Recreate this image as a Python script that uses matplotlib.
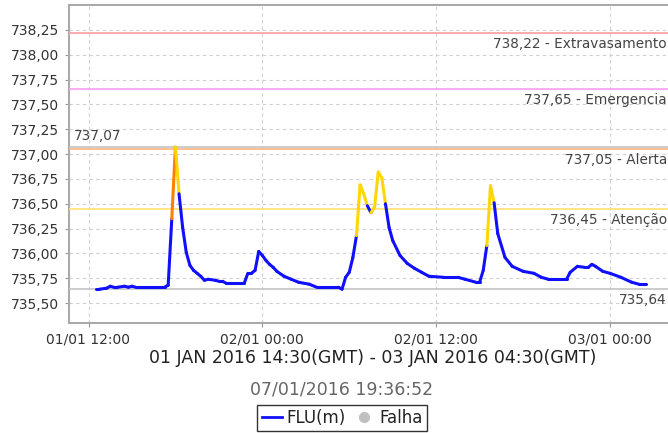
import datetime as dt
import matplotlib
matplotlib.use("Agg")
import matplotlib.pyplot as plt
import matplotlib.dates as mdates
from matplotlib.collections import LineCollection
from matplotlib.lines import Line2D
import numpy as np

# ---------------- data ----------------
# hours since 01/01/2016 00:00 (local)
hours = [12.5, 12.75, 13.25, 13.5, 13.75, 14.0, 14.5, 14.75, 15.0, 15.25, 16.0, 17.0,
         17.25, 17.5, 17.75, 18.0, 18.25, 18.5, 18.75, 19.0, 19.25, 19.5, 19.75,
         20.0, 20.25, 20.75, 21.0, 21.25, 21.5, 22.75, 23.0, 23.25, 23.5, 23.75,
         24.0, 24.25, 24.5, 24.75, 25.0, 25.5, 26.0, 26.5, 27.25, 27.75, 28.5,
         29.25, 29.5, 29.75, 30.0, 30.25, 30.5, 30.75, 31.0, 31.25, 31.5, 31.75,
         32.0, 32.25, 32.5, 32.75, 33.0, 33.5, 34.0, 34.5, 35.0, 35.5, 36.5,
         37.5, 38.0, 38.75, 39.0, 39.25, 39.5, 39.75, 40.0, 40.25, 40.75, 41.25,
         42.0, 42.75, 43.25, 43.75, 44.5, 45.0, 45.25, 45.75, 46.25, 46.5, 46.75,
         47.0, 47.5, 48.0, 48.75, 49.5, 50.0, 50.5]
level = [735.64, 735.64, 735.65, 735.67, 735.66, 735.66, 735.67, 735.66, 735.67, 735.66, 735.66, 735.66,
         735.66, 735.68, 736.35, 737.07, 736.60, 736.26, 736.01, 735.88, 735.83, 735.80, 735.77,
         735.73, 735.74, 735.73, 735.72, 735.72, 735.70, 735.70, 735.80, 735.80, 735.83, 736.02,
         735.98, 735.93, 735.89, 735.86, 735.82, 735.77, 735.74, 735.71, 735.69, 735.66, 735.66,
         735.66, 735.64, 735.76, 735.81, 735.96, 736.18, 736.69, 736.60, 736.48, 736.41, 736.47,
         736.82, 736.76, 736.50, 736.26, 736.13, 735.98, 735.90, 735.85, 735.81, 735.77, 735.76,
         735.76, 735.74, 735.71, 735.71, 735.83, 736.08, 736.68, 736.51, 736.20, 735.96, 735.87,
         735.82, 735.80, 735.76, 735.74, 735.74, 735.74, 735.81, 735.87, 735.86, 735.86, 735.89,
         735.87, 735.82, 735.80, 735.76, 735.71, 735.69, 735.69]

threshold_values = [738.22, 737.65, 737.05, 736.45]
threshold_names = ["Extravasamento", "Emergencia", "Alerta", "Atenção"]
threshold_line_colors = ["#ff9c9c", "#ff9cf0", "#ffb482", "#ffe070"]

series_name = "FLU(m)"
failure_name = "Falha"
xtick_hours = [12, 24, 36, 48]
xtick_labels = ["01/01 12:00", "02/01 00:00", "02/01 12:00", "03/01 00:00"]
ytick_values = [735.50, 735.75, 736.00, 736.25, 736.50, 736.75, 737.00,
                737.25, 737.50, 737.75, 738.00, 738.25]
period_text = "01 JAN 2016 14:30(GMT) - 03 JAN 2016 04:30(GMT)"
generated_text = "07/01/2016 19:36:52"

# ---------------- figure ----------------
W, H = 668, 433
fig = plt.figure(figsize=(W / 100, H / 100), dpi=100)
ax_left, ax_right, ax_top, ax_bottom = 69, 676, 5, 323
ax = fig.add_axes([ax_left / W, 1 - ax_bottom / H, (ax_right - ax_left) / W,
                   (ax_bottom - ax_top) / H])

base = dt.datetime(2016, 1, 1)
def to_dt(h):
    return base + dt.timedelta(hours=h)

t = mdates.date2num([to_dt(h) for h in hours])
v = np.array(level)

# segment colours by end value
def seg_color(val):
    if val >= threshold_values[2]:
        return "#ff8000"
    if val >= threshold_values[3]:
        return "#ffd700"
    return "#1010ff"

pts = np.column_stack([t, v])
segs = [pts[i - 1:i + 1] for i in range(1, len(pts))]
cols = [seg_color(level[i]) for i in range(1, len(level))]
lc = LineCollection(segs, colors=cols, linewidths=2.2, capstyle="round", joinstyle="round", zorder=5)
ax.add_collection(lc)

def fmt(x):
    return f"{x:.2f}".replace(".", ",")

label_color = "#444444"
right_off = -(ax_right - 667)
for val, name, c in zip(threshold_values, threshold_names, threshold_line_colors):
    ax.axhline(val, color=c, lw=1.2, zorder=3)
    ax.annotate(f"{fmt(val)} - {name}", xy=(1, val), xycoords=ax.get_yaxis_transform(),
                xytext=(right_off, -4), textcoords="offset pixels", ha="right", va="top",
                fontsize=9.8, color=label_color, zorder=6)

vmax = max(level)
vmin = min(level)
ax.axhline(vmax, color="#c4c4c4", lw=1.2, zorder=3)
ax.annotate(fmt(vmax), xy=(0, vmax), xycoords=ax.get_yaxis_transform(),
            xytext=(5, 4), textcoords="offset pixels", ha="left", va="bottom",
            fontsize=9.8, color=label_color)
ax.axhline(vmin, color="#c4c4c4", lw=1.2, zorder=3)
ax.annotate(fmt(vmin), xy=(1, vmin), xycoords=ax.get_yaxis_transform(),
            xytext=(right_off, -4), textcoords="offset pixels", ha="right", va="top",
            fontsize=9.8, color=label_color)

# axes limits
px_per_hour = (610 - 88.5) / 36.0
x0 = 12 - (88.5 - ax_left) / px_per_hour
x1 = 48 + (ax_right - 610) / px_per_hour
ax.set_xlim(mdates.date2num(to_dt(x0)), mdates.date2num(to_dt(x1)))
ax.set_ylim(735.30, 738.50)

ax.set_xticks(mdates.date2num([to_dt(h) for h in xtick_hours]))
ax.set_xticklabels(xtick_labels)
ax.set_yticks(ytick_values)
ax.set_yticklabels([fmt(y) for y in ytick_values])
ax.tick_params(axis="both", labelsize=10, colors="#333333", length=3, width=0.8,
               direction="out", pad=4)
ax.tick_params(axis="both", color="#999999")

ax.grid(True, color="#d0d0d0", linestyle=(0, (3, 3)), lw=0.8, zorder=0)
ax.set_axisbelow(True)
for s in ["left", "bottom", "top", "right"]:
    ax.spines[s].set_color("#aaaaaa")
    ax.spines[s].set_linewidth(1.5)

# footer texts
fig.text((ax_left + ax_right) / 2 / W, 1 - 358 / H, period_text, ha="center", va="center",
         fontsize=12.5, color="#222222")
fig.text(342 / W, 1 - 390 / H, generated_text, ha="center", va="center",
         fontsize=12.5, color="#666666")

handles = [Line2D([0], [0], color="#1010ff", lw=2),
           Line2D([0], [0], color="none", marker="o", markersize=7,
                  markerfacecolor="#c0c0c0", markeredgecolor="#c0c0c0")]
leg = fig.legend(handles, [series_name, failure_name], loc="center",
                 bbox_to_anchor=(342 / W, 1 - 418 / H), ncol=2, frameon=True,
                 fancybox=False, fontsize=12, handlelength=1.2, handletextpad=0.3,
                 columnspacing=0.5, borderpad=0.25, borderaxespad=0)
leg.get_frame().set_edgecolor("black")
leg.get_frame().set_linewidth(1.0)
for txt in leg.get_texts():
    txt.set_color("#222222")

fig.savefig("out.png", dpi=100)
